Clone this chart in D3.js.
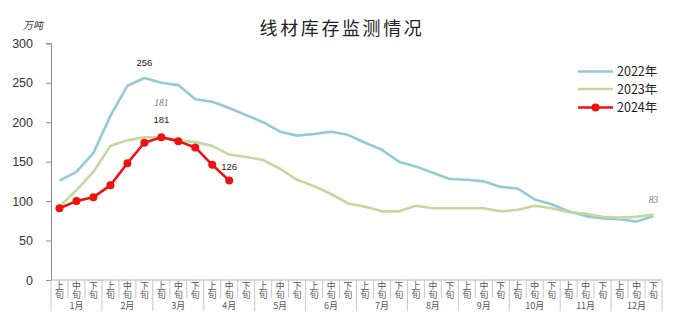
<!DOCTYPE html>
<html>
<head>
<meta charset="utf-8">
<script src="https://cdn.jsdelivr.net/npm/d3@7"></script>
<style>
  html, body { margin: 0; padding: 0; background: #fff; }
  svg { display: block; }
  text { font-family: "Noto Sans CJK SC", "Liberation Sans", sans-serif; }
</style>
</head>
<body>
<div id="chart"></div>
<script>
// 线材库存（万吨），按旬统计
const months = ["1月","2月","3月","4月","5月","6月","7月","8月","9月","10月","11月","12月"];
const periods = ["上旬","中旬","下旬"];
const yTicks = [0, 50, 100, 150, 200, 250, 300];

const s2022 = [126,137,161,208,246,256,250,247,229,226,218,209,200,188,183,185,188,184,174,165,150,144,136,128,127,125,118,116,102,96,87,81,78,77,74,81];
const s2023 = [93,114,137,170,177,181,181,177,175,170,159,156,152,141,127,119,109,97,93,87,87,94,91,91,91,91,87,89,94,91,86,84,80,79,80,83];
const s2024 = [91,100,105,120,148,174,181,176,168,146,126];

const seriesNames = ["2022年","2023年","2024年"];
const seriesColors = ["#94C9D6","#C4D79E","#EE1111"];

const W = 685, H = 331;
const svg = d3.select("#chart").append("svg").attr("width", W).attr("height", H);

// 36 个旬为类目
const cats = d3.range(months.length * periods.length);
const x = d3.scaleBand().domain(cats).range([51, 662]).paddingInner(0).paddingOuter(0);
const y = d3.scaleLinear().domain([0, 300]).range([280, 43.3]);
const cx = i => x(i) + x.bandwidth() / 2;

// 标题
svg.append("text")
  .attr("x", 342).attr("y", 35)
  .attr("text-anchor", "middle")
  .attr("font-size", 18).attr("letter-spacing", 2.6)
  .attr("fill", "#222")
  .text("线材库存监测情况");

// 单位
svg.append("text")
  .attr("x", 23).attr("y", 29)
  .attr("font-size", 10).attr("font-style", "italic")
  .attr("fill", "#333")
  .text("万吨");

// Y 轴
const yAxis = svg.append("g")
  .attr("transform", "translate(51,0)")
  .call(d3.axisLeft(y).tickValues(yTicks).tickSize(5).tickPadding(13).tickFormat(d3.format("d")));
yAxis.select(".domain").attr("stroke", "#8a8a8a");
yAxis.selectAll(".tick line").attr("stroke", "#8a8a8a");
yAxis.selectAll(".tick text")
  .attr("font-size", 12.5).attr("fill", "#333")
  .style("font-family", "'Liberation Sans', sans-serif");

// X 轴
svg.append("line")
  .attr("x1", 51).attr("x2", 662).attr("y1", 280).attr("y2", 280)
  .attr("stroke", "#b0b0b0");

const xg = svg.append("g");
// 旬之间的分隔线
xg.selectAll("line.sep")
  .data(d3.range(cats.length + 1))
  .join("line")
  .attr("class", "sep")
  .attr("x1", i => 51 + i * x.bandwidth())
  .attr("x2", i => 51 + i * x.bandwidth())
  .attr("y1", 280)
  .attr("y2", i => (i % 3 === 0) ? 311 : 298)
  .attr("stroke", "#c8c8c8");

// 旬标签（竖排）
xg.selectAll("text.lab")
  .data(cats)
  .join("text")
  .attr("class", "lab")
  .attr("x", i => cx(i))
  .attr("y", 281)
  .style("writing-mode", "vertical-rl")
  .style("text-orientation", "upright")
  .attr("font-size", 8.8).attr("fill", "#555")
  .text(i => periods[i % 3]);

// 月份标签
xg.selectAll("text.month")
  .data(months)
  .join("text")
  .attr("class", "month")
  .attr("x", (m, k) => cx(k * 3 + 1))
  .attr("y", 309)
  .attr("text-anchor", "middle")
  .attr("font-size", 9).attr("fill", "#555")
  .text(m => m);

// 折线
const line = d3.line().x((d, i) => cx(i)).y(d => y(d));
[s2022, s2023, s2024].forEach((s, k) => {
  svg.append("path")
    .datum(s)
    .attr("fill", "none")
    .attr("stroke", seriesColors[k])
    .attr("stroke-width", 2.6)
    .attr("stroke-linejoin", "round")
    .attr("d", line);
});

// 2024 数据点
svg.selectAll("circle.p24")
  .data(s2024)
  .join("circle")
  .attr("class", "p24")
  .attr("cx", (d, i) => cx(i))
  .attr("cy", d => y(d))
  .attr("r", 4)
  .attr("fill", seriesColors[2]);

// 数据标注
const peak22 = d3.maxIndex(s2022);
const peak24 = d3.maxIndex(s2024);
const last24 = s2024.length - 1;
const last23 = s2023.length - 1;
const notes = [
  { i: peak22, v: s2022[peak22], dy: -12.5, italic: false, fill: "#222" },
  { i: peak24, v: s2024[peak24], dy: -31, italic: true, fill: "#777" },
  { i: peak24, v: s2024[peak24], dy: -14, italic: false, fill: "#222" },
  { i: last24, v: s2024[last24], dy: -11, italic: false, fill: "#222" },
  { i: last23, v: s2023[last23], dy: -12, italic: true, fill: "#777" }
];
svg.selectAll("text.note")
  .data(notes)
  .join("text")
  .attr("class", "note")
  .attr("x", d => cx(d.i))
  .attr("y", d => y(d.v) + d.dy)
  .attr("text-anchor", "middle")
  .attr("font-size", 9.5)
  .attr("font-style", d => d.italic ? "italic" : "normal")
  .attr("fill", d => d.fill)
  .style("font-family", d => d.italic ? "'Liberation Serif', serif" : "'Liberation Sans', sans-serif")
  .text(d => d.v);

// 图例
const lg = svg.append("g");
const legY = [71.5, 89, 107.5];
seriesNames.forEach((name, k) => {
  lg.append("line")
    .attr("x1", 578).attr("x2", 613)
    .attr("y1", legY[k]).attr("y2", legY[k])
    .attr("stroke", seriesColors[k]).attr("stroke-width", 2.6);
  if (k === 2) {
    lg.append("circle").attr("cx", 595.5).attr("cy", legY[k]).attr("r", 4).attr("fill", seriesColors[k]);
  }
  lg.append("text")
    .attr("x", 617).attr("y", legY[k] + 4.5)
    .attr("font-size", 12.5).attr("fill", "#222")
    .text(name);
});
</script>
</body>
</html>
